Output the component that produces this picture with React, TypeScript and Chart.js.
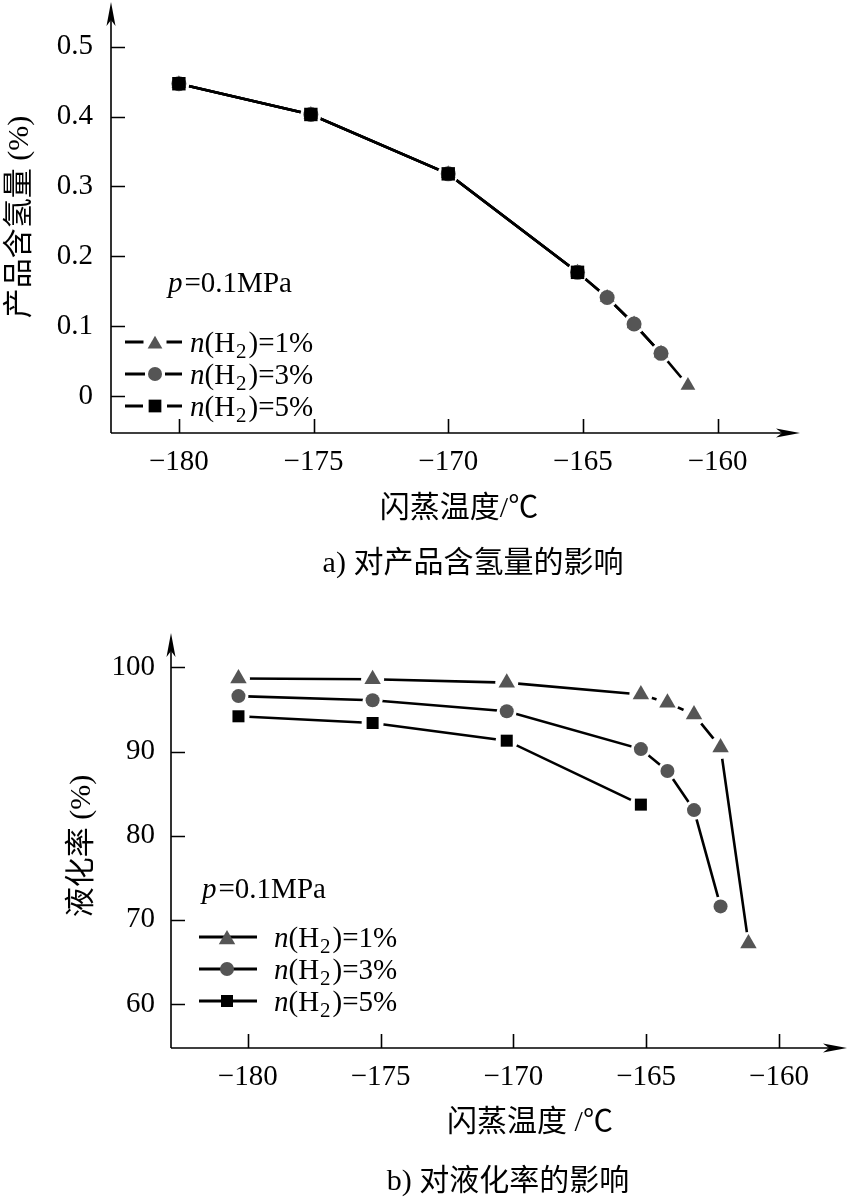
import React, { useEffect, useRef } from 'react';
import { Chart, registerables } from 'chart.js';

Chart.register(...registerables);

const SERIF = '"Liberation Serif", "Times New Roman", serif';
const MIXED = '"Liberation Serif", "Noto Sans CJK SC", serif';

// ---------- panel a) 对产品含氢量的影响 ----------
const aTemp1 = [-180, -175.1, -170, -165.2, -164.1, -163.1, -162.1, -161.1];
const aH2_1 = [0.447, 0.403, 0.318, 0.177, 0.141, 0.103, 0.061, 0.015];
const aTemp3 = [-180, -175.1, -170, -165.2, -164.1, -163.1, -162.1];
const aH2_3 = [0.447, 0.403, 0.318, 0.177, 0.141, 0.103, 0.061];
const aTemp5 = [-180, -175.1, -170, -165.2];
const aH2_5 = [0.447, 0.403, 0.318, 0.177];
const aTicksX = [-180, -175, -170, -165, -160];
const aTicksY = [0, 0.1, 0.2, 0.3, 0.4, 0.5];

// ---------- panel b) 对液化率的影响 ----------
const bTemp1 = [-180.35, -175.3, -170.25, -165.2, -164.2, -163.2, -162.2, -161.15];
const bRate1 = [98.7, 98.6, 98.2, 96.8, 95.8, 94.4, 90.5, 67.2];
const bTemp3 = [-180.35, -175.3, -170.25, -165.2, -164.2, -163.2, -162.2];
const bRate3 = [96.6, 96.1, 94.8, 90.3, 87.7, 83.05, 71.6];
const bTemp5 = [-180.35, -175.3, -170.25, -165.2];
const bRate5 = [94.2, 93.4, 91.3, 83.7];
const bTicksX = [-180, -175, -170, -165, -160];
const bTicksY = [60, 70, 80, 90, 100];

const seriesNames = ['1%', '3%', '5%'];
const markerStyles = ['triangle', 'circle', 'rect'];
const markerColors = ['#555555', '#555555', '#000000'];

type Pt = { x: number; y: number };

function pts(xs: number[], ys: number[]): Pt[] {
  return xs.map((x, i) => ({ x, y: ys[i] }));
}

function buildDatasets(series: Pt[][], radii: number[], halo: number[]) {
  const ds: any[] = [];
  series.forEach((data, i) => {
    ds.push({
      label: 'line ' + seriesNames[i],
      data,
      showLine: true,
      borderColor: '#000',
      borderWidth: 2.6,
      tension: 0,
      fill: false,
      pointStyle: 'circle',
      pointRadius: halo[i],
      pointBackgroundColor: '#fff',
      pointBorderWidth: 0,
      order: 10,
    });
  });
  series.forEach((data, i) => {
    ds.push({
      label: 'n(H2)=' + seriesNames[i],
      data,
      showLine: false,
      pointStyle: markerStyles[i],
      pointRadius: radii[i],
      pointBackgroundColor: markerColors[i],
      pointBorderWidth: 0,
      order: 3 - i,
    });
  });
  return ds;
}

function drawMarker(ctx: CanvasRenderingContext2D, style: string, x: number, y: number, r: number, color: string) {
  ctx.fillStyle = color;
  ctx.beginPath();
  if (style === 'triangle') {
    ctx.moveTo(x, y - r);
    ctx.lineTo(x + r * 0.866, y + r / 2);
    ctx.lineTo(x - r * 0.866, y + r / 2);
    ctx.closePath();
  } else if (style === 'circle') {
    ctx.arc(x, y, r, 0, Math.PI * 2);
  } else {
    const s = r * Math.SQRT1_2;
    ctx.rect(x - s, y - s, 2 * s, 2 * s);
  }
  ctx.fill();
}

type Part = { t: string; it?: boolean; sub?: boolean; gap?: number };

function drawRich(ctx: CanvasRenderingContext2D, x: number, baseline: number, parts: Part[], size: number) {
  let cx = x;
  ctx.textAlign = 'left';
  ctx.textBaseline = 'alphabetic';
  ctx.fillStyle = '#000';
  for (const p of parts) {
    const s = p.sub ? Math.round(size * 0.72) : size;
    ctx.font = `${p.it ? 'italic ' : ''}${s}px ${SERIF}`;
    ctx.fillText(p.t, cx, baseline + (p.sub ? size * 0.2 : 0));
    cx += ctx.measureText(p.t).width + (p.gap || 0);
  }
}

function arrowUp(ctx: CanvasRenderingContext2D, x: number, y: number) {
  ctx.beginPath();
  ctx.moveTo(x, y);
  ctx.lineTo(x - 4.5, y + 24);
  ctx.lineTo(x, y + 18);
  ctx.lineTo(x + 4.5, y + 24);
  ctx.closePath();
  ctx.fill();
}

function arrowRight(ctx: CanvasRenderingContext2D, x: number, y: number) {
  ctx.beginPath();
  ctx.moveTo(x, y);
  ctx.lineTo(x - 24, y - 4.5);
  ctx.lineTo(x - 18, y);
  ctx.lineTo(x - 24, y + 4.5);
  ctx.closePath();
  ctx.fill();
}

type Decor = {
  xTicks: number[];
  yTicks: number[];
  yTitle: string;
  yTitlePos: [number, number];
  xTitle: string;
  xTitlePos: [number, number];
  caption: string;
  captionPos: [number, number];
  pPos: [number, number];
  lineX0: number;
  lineX1: number;
  markerX: number;
  textX: number;
  rows: number[];
  gapHalo: boolean;
  legendRadii: number[];
};

function makeDecor(d: Decor) {
  return {
    id: 'decor',
    afterDraw(chart: any) {
      const ctx: CanvasRenderingContext2D = chart.ctx;
      const a = chart.chartArea;
      const xs = chart.scales.x;
      const ys = chart.scales.y;
      ctx.save();
      ctx.strokeStyle = '#000';
      ctx.fillStyle = '#000';
      ctx.lineWidth = 1.6;
      // axes
      ctx.beginPath();
      ctx.moveTo(a.left, a.bottom);
      ctx.lineTo(a.left, a.top + 12);
      ctx.moveTo(a.left, a.bottom);
      ctx.lineTo(a.right - 12, a.bottom);
      ctx.stroke();
      arrowUp(ctx, a.left, a.top);
      arrowRight(ctx, a.right, a.bottom);
      // inward ticks
      ctx.beginPath();
      d.yTicks.forEach((v) => {
        const py = Math.round(ys.getPixelForValue(v)) + 0.5;
        ctx.moveTo(a.left, py);
        ctx.lineTo(a.left + 14, py);
      });
      d.xTicks.forEach((v) => {
        const px = Math.round(xs.getPixelForValue(v)) + 0.5;
        ctx.moveTo(px, a.bottom);
        ctx.lineTo(px, a.bottom - 14);
      });
      ctx.stroke();

      // titles
      ctx.fillStyle = '#000';
      ctx.font = `30px ${MIXED}`;
      ctx.textAlign = 'center';
      ctx.textBaseline = 'middle';
      ctx.save();
      ctx.translate(d.yTitlePos[0], d.yTitlePos[1]);
      ctx.rotate(-Math.PI / 2);
      ctx.fillText(d.yTitle, 0, 0);
      ctx.restore();
      ctx.fillText(d.xTitle, d.xTitlePos[0], d.xTitlePos[1]);
      ctx.fillText(d.caption, d.captionPos[0], d.captionPos[1]);

      // annotation p=0.1MPa
      drawRich(ctx, d.pPos[0], d.pPos[1], [{ t: 'p', it: true, gap: 2 }, { t: '=0.1MPa' }], 29);

      // legend
      d.rows.forEach((ry, i) => {
        ctx.strokeStyle = '#000';
        ctx.lineWidth = 2.8;
        ctx.beginPath();
        ctx.moveTo(d.lineX0, ry);
        ctx.lineTo(d.lineX1, ry);
        ctx.stroke();
        const r = d.legendRadii[i];
        if (d.gapHalo) {
          ctx.fillStyle = '#fff';
          ctx.fillRect(d.markerX - r - 3, ry - 4, 2 * r + 6, 8);
        }
        const my = markerStyles[i] === 'triangle' ? ry + r / 4 : ry;
        drawMarker(ctx, markerStyles[i], d.markerX, my, r, markerColors[i]);
        drawRich(
          ctx,
          d.textX,
          ry + 10,
          [
            { t: 'n', it: true },
            { t: '(H', gap: 1 },
            { t: '2', sub: true, gap: 2 },
            { t: ')=' + seriesNames[i] },
          ],
          29
        );
      });
      ctx.restore();
    },
  };
}

function zeroPad(s: any) {
  s.paddingTop = 0;
  s.paddingBottom = 0;
  s.paddingLeft = 0;
  s.paddingRight = 0;
}

function makeChart(
  canvas: HTMLCanvasElement,
  datasets: any[],
  opt: {
    xMin: number;
    xMax: number;
    yMin: number;
    yMax: number;
    yWidth: number;
    xHeight: number;
    padTop: number;
    padRight: number;
    xTicks: number[];
    yTicks: number[];
    yPad: number;
    decor: Decor;
  }
) {
  return new Chart(canvas, {
    type: 'scatter',
    data: { datasets },
    options: {
      responsive: false,
      animation: false,
      events: [],
      layout: {
        autoPadding: false,
        padding: { left: 0, top: opt.padTop, right: opt.padRight, bottom: 0 },
      },
      plugins: {
        legend: { display: false },
        tooltip: { enabled: false },
        title: { display: false },
      },
      scales: {
        x: {
          type: 'linear',
          position: 'bottom',
          min: opt.xMin,
          max: opt.xMax,
          afterFit: (s: any) => {
            s.height = opt.xHeight;
            zeroPad(s);
          },
          afterBuildTicks: (s: any) => {
            s.ticks = opt.xTicks.map((v) => ({ value: v }));
          },
          ticks: {
            color: '#000',
            font: { family: SERIF, size: 29 },
            padding: 12,
            maxRotation: 0,
            autoSkip: false,
            callback: (v: any) => (Number(v) < 0 ? '\u2212' + Math.abs(Number(v)) : String(v)),
          },
          grid: { display: false, drawTicks: false },
          border: { display: false },
        },
        y: {
          type: 'linear',
          position: 'left',
          min: opt.yMin,
          max: opt.yMax,
          afterFit: (s: any) => {
            s.width = opt.yWidth;
            zeroPad(s);
          },
          afterBuildTicks: (s: any) => {
            s.ticks = opt.yTicks.map((v) => ({ value: v }));
          },
          ticks: {
            color: '#000',
            font: { family: SERIF, size: 29 },
            padding: opt.yPad,
            autoSkip: false,
            callback: (v: any) => String(v),
          },
          grid: { display: false, drawTicks: false },
          border: { display: false },
        },
      },
    } as any,
    plugins: [makeDecor(opt.decor)],
  });
}

export default function App() {
  const refA = useRef<HTMLCanvasElement>(null);
  const refB = useRef<HTMLCanvasElement>(null);

  useEffect(() => {
    const aSeries = [pts(aTemp1, aH2_1), pts(aTemp3, aH2_3), pts(aTemp5, aH2_5)];
    const bSeries = [pts(bTemp1, bRate1), pts(bTemp3, bRate3), pts(bTemp5, bRate5)];

    const chartA = makeChart(refA.current!, buildDatasets(aSeries, [8.5, 7.5, 9.5], [10.5, 10, 10.5]), {
      xMin: -182.52,
      xMax: -156.94,
      yMin: -0.053,
      yMax: 0.564,
      yWidth: 111,
      xHeight: 167,
      padTop: 2,
      padRight: 52,
      xTicks: aTicksX,
      yTicks: aTicksY,
      yPad: 18,
      decor: {
        xTicks: aTicksX,
        yTicks: aTicksY,
        yTitle: '产品含氢量 (%)',
        yTitlePos: [20, 217],
        xTitle: '闪蒸温度/℃',
        xTitlePos: [459, 509],
        caption: 'a) 对产品含氢量的影响',
        captionPos: [473, 564],
        pPos: [168, 292],
        lineX0: 125,
        lineX1: 182,
        markerX: 155,
        textX: 190,
        rows: [342, 374, 406],
        gapHalo: true,
        legendRadii: [8.5, 7, 9],
      },
    });

    const chartB = makeChart(refB.current!, buildDatasets(bSeries, [9.5, 7, 8.5], [11.5, 10, 11]), {
      xMin: -182.89,
      xMax: -157.44,
      yMin: 54.77,
      yMax: 104.1,
      yWidth: 171,
      xHeight: 150,
      padTop: 33,
      padRight: 5,
      xTicks: bTicksX,
      yTicks: bTicksY,
      yPad: 16,
      decor: {
        xTicks: bTicksX,
        yTicks: bTicksY,
        yTitle: '液化率 (%)',
        yTitlePos: [82, 246],
        xTitle: '闪蒸温度 /℃',
        xTitlePos: [530, 523],
        caption: 'b) 对液化率的影响',
        captionPos: [508, 582],
        pPos: [202, 298],
        lineX0: 199,
        lineX1: 257,
        markerX: 227,
        textX: 274,
        rows: [337, 369, 401],
        gapHalo: false,
        legendRadii: [9.5, 7, 8.5],
      },
    });

    return () => {
      chartA.destroy();
      chartB.destroy();
    };
  }, []);

  return (
    <div style={{ position: 'absolute', left: 0, top: 0, width: 852, height: 1198, background: '#fff' }}>
      <canvas
        ref={refA}
        width={852}
        height={600}
        style={{ position: 'absolute', left: 0, top: 0, width: 852, height: 600 }}
      />
      <canvas
        ref={refB}
        width={852}
        height={598}
        style={{ position: 'absolute', left: 0, top: 600, width: 852, height: 598 }}
      />
    </div>
  );
}
